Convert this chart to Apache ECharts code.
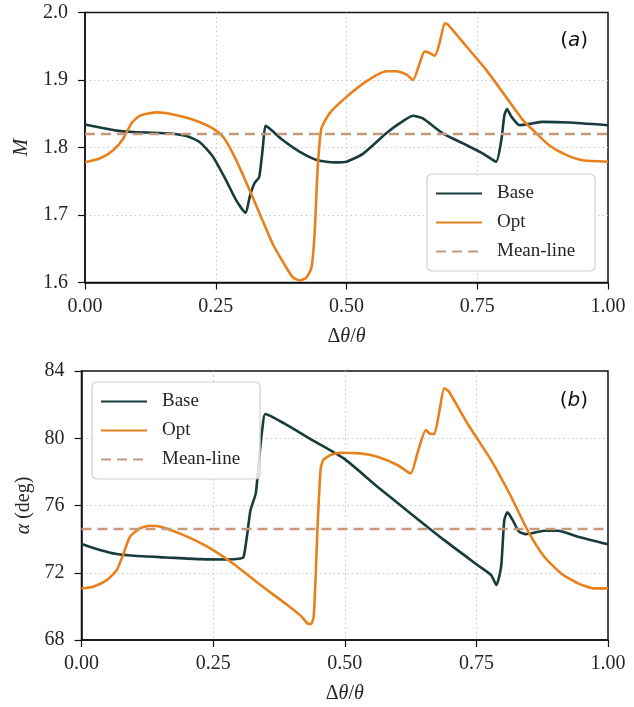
<!DOCTYPE html>
<html>
<head>
<meta charset="utf-8">
<script src="https://cdn.jsdelivr.net/npm/echarts@6/dist/echarts.min.js"></script>
<style>html,body{margin:0;padding:0;background:#fff;}#c{width:634px;height:707px;}</style>
</head>
<body>
<div id="c"></div>
<script>
// ---- data ----
const xTickLabels = ['0.00', '0.25', '0.50', '0.75', '1.00'];
const yTopTicks = [1.6, 1.7, 1.8, 1.9, 2.0];
const yBotTicks = [68, 72, 76, 80, 84];

const baseTopX = [0,0.060,0.092,0.156,0.194,0.219,0.245,0.270,0.289,0.307,0.315,0.324,0.333,0.340,0.345,0.353,0.378,0.410,0.445,0.478,0.5,0.532,0.576,0.602,0.627,0.646,0.684,0.723,0.761,0.786,0.796,0.802,0.807,0.815,0.831,0.850,0.875,0.926,1.0];
const baseTopY = [1.834,1.825,1.823,1.821,1.817,1.808,1.786,1.751,1.722,1.703,1.727,1.747,1.756,1.800,1.832,1.828,1.811,1.794,1.781,1.778,1.779,1.791,1.821,1.836,1.847,1.843,1.821,1.806,1.791,1.779,1.811,1.848,1.857,1.846,1.833,1.835,1.838,1.837,1.833];

const optTopX = [0,0.029,0.054,0.073,0.089,0.105,0.137,0.169,0.207,0.245,0.264,0.283,0.308,0.334,0.359,0.385,0.397,0.410,0.423,0.433,0.439,0.445,0.452,0.468,0.5,0.538,0.576,0.595,0.615,0.627,0.640,0.649,0.659,0.669,0.678,0.688,0.694,0.729,0.767,0.805,0.837,0.863,0.888,0.920,0.952,1.0];
const optTopY = [1.778,1.784,1.796,1.813,1.836,1.847,1.852,1.849,1.841,1.828,1.816,1.791,1.749,1.702,1.657,1.622,1.608,1.603,1.607,1.622,1.672,1.771,1.828,1.851,1.875,1.898,1.913,1.913,1.908,1.900,1.925,1.942,1.940,1.936,1.955,1.984,1.982,1.950,1.915,1.875,1.841,1.821,1.803,1.789,1.781,1.779];

const baseBotX = [0,0.035,0.067,0.099,0.162,0.226,0.277,0.302,0.308,0.315,0.321,0.331,0.337,0.344,0.349,0.385,0.435,0.498,0.562,0.625,0.689,0.752,0.778,0.788,0.797,0.803,0.809,0.819,0.831,0.844,0.879,0.905,0.943,1.0];
const baseBotY = [73.71,73.35,73.11,73.01,72.91,72.81,72.79,72.85,72.95,74.34,75.73,76.72,78.70,80.69,81.44,80.88,79.95,78.80,77.12,75.53,73.94,72.46,71.86,71.27,72.36,75.13,75.59,75.13,74.44,74.30,74.50,74.50,74.14,73.69];

const optBotX = [0,0.022,0.048,0.067,0.080,0.092,0.111,0.130,0.150,0.194,0.239,0.289,0.340,0.391,0.417,0.429,0.436,0.441,0.445,0.448,0.454,0.459,0.473,0.492,0.530,0.562,0.600,0.625,0.638,0.654,0.663,0.670,0.679,0.689,0.698,0.733,0.778,0.816,0.847,0.879,0.911,0.943,0.975,1.0];
const optBotY = [71.07,71.17,71.56,72.16,73.15,74.14,74.64,74.80,74.74,74.24,73.55,72.52,71.27,70.08,69.42,68.99,68.95,69.4,72.0,74.5,78.11,78.70,79.00,79.14,79.10,78.90,78.41,77.91,79.10,80.49,80.25,80.25,81.48,82.97,82.77,80.88,78.70,76.52,74.54,72.95,71.96,71.37,71.07,71.07];

const meanTop = 1.82;
const meanBot = 74.6;
const meanX = [0, 1];

// ---- build chart ----
const zip = (xs, ys) => xs.map((x, i) => [x, ys[i]]);
const C_BASE = '#183c3b', C_OPT = '#e8801c', C_MEAN = '#c39a7c';
const SERIF = 'Liberation Serif';
const TXT = '#262626';
const gridLine = { show: true, showMinLine: false, showMaxLine: false,
  lineStyle: { color: '#c8c8c8', type: [1.5, 3], width: 1 } };

function xAxisDef(gi) {
  return {
    type: 'value', gridIndex: gi, min: 0, max: 1, interval: 0.25,
    name: '{n|Δ}{i|θ}{n|/}{i|θ}', nameLocation: 'middle', nameGap: 44,
    nameTextStyle: { rich: {
      n: { fontFamily: SERIF, fontSize: 20, color: TXT },
      i: { fontFamily: SERIF, fontStyle: 'italic', fontSize: 20, color: TXT } } },
    axisLine: { show: true, onZero: false, lineStyle: { color: '#111', width: 1.5 } },
    axisTick: { show: true, inside: false, length: 7, lineStyle: { color: '#111', width: 1.2 } },
    axisLabel: { fontFamily: SERIF, fontSize: 20, color: TXT, margin: 14,
      formatter: v => xTickLabels[Math.round(v / 0.25)] },
    splitLine: gridLine
  };
}
function yAxisDef(gi, min, max, interval, ticks, dec, nameCfg) {
  return Object.assign({
    type: 'value', gridIndex: gi, min: min, max: max, interval: interval,
    nameLocation: 'middle',
    axisLine: { show: true, onZero: false, lineStyle: { color: '#111', width: 1.5 } },
    axisTick: { show: true, inside: false, length: 7, lineStyle: { color: '#111', width: 1.2 } },
    axisLabel: { fontFamily: SERIF, fontSize: 20, color: TXT, margin: 17,
      formatter: v => { const t = ticks.find(k => Math.abs(k - v) < 1e-6); return t === undefined ? '' : t.toFixed(dec); } },
    splitLine: gridLine
  }, nameCfg);
}
function lineSeries(name, color, data, xi, dashed) {
  return {
    type: 'line', name: name, xAxisIndex: xi, yAxisIndex: xi, data: data,
    showSymbol: false, symbol: 'none', smooth: dashed ? false : 0.2,
    lineStyle: { color: color, width: 2.6, type: dashed ? [10, 6] : 'solid' },
    itemStyle: { color: color }, z: dashed ? 3 : 2, animation: false
  };
}
function legendDef(left, top) {
  return {
    orient: 'vertical', left: left, top: top, itemWidth: 46, itemHeight: 14, itemGap: 10,
    padding: [10, 20, 10, 8],
    backgroundColor: 'rgba(255,255,255,0.85)', borderColor: '#d0d0d0', borderWidth: 1.2, borderRadius: 5,
    itemStyle: { opacity: 0 },
    textStyle: { fontFamily: SERIF, fontSize: 19, color: TXT, padding: [0, 0, 0, 10] },
    data: ['Base', 'Opt', 'Mean-line'], selectedMode: false
  };
}
const panelRich = {
  n: { fontFamily: 'DejaVu Sans', fontSize: 20, fontWeight: 'normal', color: '#111' },
  i: { fontFamily: 'DejaVu Sans', fontStyle: 'italic', fontSize: 20, fontWeight: 'normal', color: '#111' }
};

const option = {
  animation: false,
  backgroundColor: '#fff',
  grid: [
    { left: 85, right: 26, top: 12.5, height: 270, show: true, borderColor: '#111', borderWidth: 1.5, backgroundColor: 'transparent' },
    { left: 81.5, right: 26, top: 371, height: 269, show: true, borderColor: '#111', borderWidth: 1.5, backgroundColor: 'transparent' }
  ],
  title: [
    { text: '{n|(}{i|a}{n|)}', right: 41, top: 26, textStyle: { fontWeight: 'normal', rich: panelRich } },
    { text: '{n|(}{i|b}{n|)}', right: 41, top: 386, textStyle: { fontWeight: 'normal', rich: panelRich } }
  ],
  legend: [legendDef(427, 174), legendDef(92, 382)],
  xAxis: [xAxisDef(0), xAxisDef(1)],
  yAxis: [
    yAxisDef(0, 1.6, 2.0, 0.1, yTopTicks, 1, { name: 'M', nameGap: 51, nameRotate: 90,
      nameTextStyle: { fontFamily: SERIF, fontStyle: 'italic', fontSize: 21, color: TXT } }),
    yAxisDef(1, 68, 84, 4, yBotTicks, 0, { name: '{i|α} (deg)', nameGap: 45, nameRotate: 90,
      nameTextStyle: { fontFamily: SERIF, fontSize: 20, color: TXT, rich: {
        i: { fontFamily: SERIF, fontStyle: 'italic', fontSize: 20, color: TXT } } } })
  ],
  series: [
    lineSeries('Base', C_BASE, zip(baseTopX, baseTopY), 0, false),
    lineSeries('Opt', C_OPT, zip(optTopX, optTopY), 0, false),
    lineSeries('Mean-line', C_MEAN, zip(meanX, meanX.map(() => meanTop)), 0, true),
    lineSeries('Base', C_BASE, zip(baseBotX, baseBotY), 1, false),
    lineSeries('Opt', C_OPT, zip(optBotX, optBotY), 1, false),
    lineSeries('Mean-line', C_MEAN, zip(meanX, meanX.map(() => meanBot)), 1, true)
  ]
};
const chart = echarts.init(document.getElementById('c'), null, { renderer: 'canvas' });
chart.setOption(option);
</script>
</body>
</html>
